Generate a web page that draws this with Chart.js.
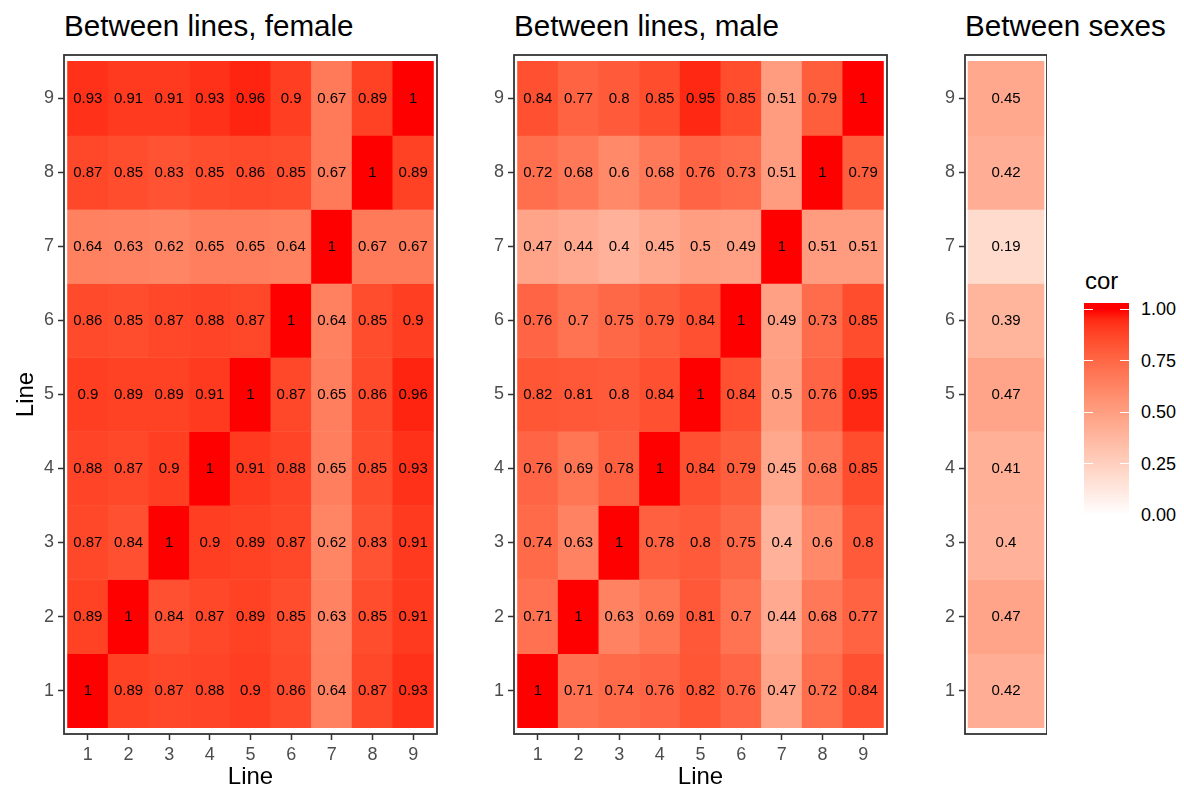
<!DOCTYPE html>
<html>
<head>
<meta charset="utf-8">
<script src="https://cdn.jsdelivr.net/npm/chart.js@4.4.1/dist/chart.umd.min.js"></script>
<style>
  html, body { margin: 0; padding: 0; background: #ffffff; }
  body { width: 1184px; height: 792px; position: relative; overflow: hidden;
         font-family: 'Liberation Sans', Arial, Helvetica, sans-serif; }
  canvas { position: absolute; top: 0; }
  .title { position: absolute; top: 11px; font-size: 29.6px; line-height: 29.6px; color: #000; white-space: nowrap; }
  .legtitle { position: absolute; font-size: 24px; line-height: 24px; color: #000; }
  .leglab { position: absolute; font-size: 18px; line-height: 18px; color: #000; }
  .dash { position: absolute; height: 1px; background: #ffffff; }
</style>
</head>
<body>
<div class="title" style="left:64px">Between lines, female</div>
<div class="title" style="left:514px">Between lines, male</div>
<div class="title" style="left:965px">Between sexes</div>
<canvas id="c1" width="450" height="792" style="left:0px"></canvas>
<canvas id="c2" width="450" height="792" style="left:450px"></canvas>
<canvas id="c3" width="146" height="792" style="left:901px"></canvas>
<div id="legend"></div>
<script>
// ---------------- DATA ----------------
const lines = [1, 2, 3, 4, 5, 6, 7, 8, 9];
// femaleCor[r] = row "Line" r+1 (y), values for columns Line 1..9 (x)
const femaleCor = [
  [1, 0.89, 0.87, 0.88, 0.9, 0.86, 0.64, 0.87, 0.93],
  [0.89, 1, 0.84, 0.87, 0.89, 0.85, 0.63, 0.85, 0.91],
  [0.87, 0.84, 1, 0.9, 0.89, 0.87, 0.62, 0.83, 0.91],
  [0.88, 0.87, 0.9, 1, 0.91, 0.88, 0.65, 0.85, 0.93],
  [0.9, 0.89, 0.89, 0.91, 1, 0.87, 0.65, 0.86, 0.96],
  [0.86, 0.85, 0.87, 0.88, 0.87, 1, 0.64, 0.85, 0.9],
  [0.64, 0.63, 0.62, 0.65, 0.65, 0.64, 1, 0.67, 0.67],
  [0.87, 0.85, 0.83, 0.85, 0.86, 0.85, 0.67, 1, 0.89],
  [0.93, 0.91, 0.91, 0.93, 0.96, 0.9, 0.67, 0.89, 1]
];
const maleCor = [
  [1, 0.71, 0.74, 0.76, 0.82, 0.76, 0.47, 0.72, 0.84],
  [0.71, 1, 0.63, 0.69, 0.81, 0.7, 0.44, 0.68, 0.77],
  [0.74, 0.63, 1, 0.78, 0.8, 0.75, 0.4, 0.6, 0.8],
  [0.76, 0.69, 0.78, 1, 0.84, 0.79, 0.45, 0.68, 0.85],
  [0.82, 0.81, 0.8, 0.84, 1, 0.84, 0.5, 0.76, 0.95],
  [0.76, 0.7, 0.75, 0.79, 0.84, 1, 0.49, 0.73, 0.85],
  [0.47, 0.44, 0.4, 0.45, 0.5, 0.49, 1, 0.51, 0.51],
  [0.72, 0.68, 0.6, 0.68, 0.76, 0.73, 0.51, 1, 0.79],
  [0.84, 0.77, 0.8, 0.85, 0.95, 0.85, 0.51, 0.79, 1]
];
const sexesCor = [0.42, 0.47, 0.4, 0.41, 0.47, 0.39, 0.19, 0.42, 0.45];
const legendTicks = [0, 0.25, 0.5, 0.75, 1];
const legendLabels = ['0.00', '0.25', '0.50', '0.75', '1.00'];

// ---------------- COLOUR SCALE (white -> red in Lab) ----------------
const LOW = [100, 0, 0];
const HIGH = [53.2408, 80.0925, 67.2032];
function lab2rgb(L, a, b) {
  const fy = (L + 16) / 116, fx = fy + a / 500, fz = fy - b / 200;
  const e = 216 / 24389, k = 24389 / 27;
  const f3 = t => { const t3 = t * t * t; return t3 > e ? t3 : (116 * t - 16) / k; };
  const X = 0.95047 * f3(fx), Y = L > k * e ? fy * fy * fy : L / k, Z = 1.08883 * f3(fz);
  const r = 3.2404542 * X - 1.5371385 * Y - 0.4985314 * Z;
  const g = -0.9692660 * X + 1.8760108 * Y + 0.0415560 * Z;
  const bl = 0.0556434 * X - 0.2040259 * Y + 1.0572252 * Z;
  const gam = c => { c = c <= 0.0031308 ? 12.92 * c : 1.055 * Math.pow(c, 1 / 2.4) - 0.055;
                     return Math.round(Math.max(0, Math.min(1, c)) * 255); };
  return 'rgb(' + gam(r) + ',' + gam(g) + ',' + gam(bl) + ')';
}
function fillColor(v) {
  const t = Math.max(0, Math.min(1, v));
  return lab2rgb(LOW[0] + (HIGH[0] - LOW[0]) * t, LOW[1] + (HIGH[1] - LOW[1]) * t, LOW[2] + (HIGH[2] - LOW[2]) * t);
}

// ---------------- CHART HELPERS ----------------
Chart.defaults.font.family = "'Liberation Sans', Arial, Helvetica, sans-serif";
Chart.defaults.animation = false;

function matrixPoints(mat, cols) {
  const pts = [];
  mat.forEach((row, r) => {
    row.forEach((v, c) => {
      pts.push({ y: lines[r], x: [cols[c] - 0.5, cols[c] + 0.5], v: v });
    });
  });
  return pts;
}

const framePlugin = {
  id: 'frame',
  afterDraw(chart) {
    const a = chart.chartArea, ctx = chart.ctx;
    ctx.save();
    ctx.strokeStyle = '#333333';
    ctx.lineWidth = 1.8;
    ctx.strokeRect(a.left, a.top, a.right - a.left, a.bottom - a.top);
    ctx.restore();
  }
};
const cellLabelPlugin = {
  id: 'cellLabels',
  afterDatasetsDraw(chart) {
    const ctx = chart.ctx;
    const meta = chart.getDatasetMeta(0);
    const data = chart.data.datasets[0].data;
    ctx.save();
    ctx.fillStyle = '#000000';
    ctx.font = "15px 'Liberation Sans', Arial, Helvetica, sans-serif";
    ctx.textAlign = 'center';
    ctx.textBaseline = 'middle';
    meta.data.forEach((el, i) => {
      const p = el.getProps(['x', 'y', 'base'], true);
      ctx.fillText(String(data[i].v), (p.x + p.base) / 2, p.y + 0.5);
    });
    ctx.restore();
  }
};

const intTicks = scale => { scale.ticks = lines.map(v => ({ value: v })); };
const EXP = 0.087;

function makeChart(id, points, opts) {
  const xMin = opts.xMin, xMax = opts.xMax;
  return new Chart(document.getElementById(id), {
    type: 'bar',
    data: {
      datasets: [{
        data: points,
        backgroundColor: points.map(p => fillColor(p.v)),
        borderWidth: 0,
        categoryPercentage: 1,
        barPercentage: 1
      }]
    },
    options: {
      indexAxis: 'y',
      responsive: false,
      layout: { padding: opts.padding },
      plugins: { legend: { display: false }, tooltip: { enabled: false }, title: { display: false } },
      scales: {
        y: {
          type: 'linear',
          min: 0.5 - EXP, max: 9.5 + EXP,
          offset: false,
          afterBuildTicks: intTicks,
          afterFit: s => { s.width = 64; },
          ticks: { color: '#4D4D4D', font: { size: 18 }, padding: 4, autoSkip: false },
          grid: { display: true, drawOnChartArea: false, drawTicks: true, tickLength: 6,
                  tickColor: '#333333', tickWidth: 1.5, offset: false },
          border: { display: false },
          title: opts.yTitle ? { display: true, text: 'Line', color: '#000', font: { size: 24 },
                                 padding: { top: 12, bottom: 0 } } : { display: false }
        },
        x: {
          type: 'linear',
          display: opts.xDisplay,
          min: xMin, max: xMax,
          offset: false,
          afterBuildTicks: intTicks,
          afterFit: s => { s.height = 58; },
          ticks: { color: '#4D4D4D', font: { size: 18 }, padding: 4, autoSkip: false, maxRotation: 0 },
          grid: { display: true, drawOnChartArea: false, drawTicks: true, tickLength: 6,
                  tickColor: '#333333', tickWidth: 1.5, offset: false },
          border: { display: false },
          title: { display: true, text: 'Line', color: '#000', font: { size: 24 }, padding: { top: 0, bottom: 0 } }
        }
      }
    },
    plugins: [cellLabelPlugin, framePlugin]
  });
}

makeChart('c1', matrixPoints(femaleCor, lines),
  { xMin: 0.5 - EXP, xMax: 9.5 + EXP, xDisplay: true, yTitle: true,
    padding: { top: 55, right: 13, bottom: 0, left: 0 } });
makeChart('c2', matrixPoints(maleCor, lines),
  { xMin: 0.5 - EXP, xMax: 9.5 + EXP, xDisplay: true, yTitle: false,
    padding: { top: 55, right: 13, bottom: 0, left: 0 } });
makeChart('c3', matrixPoints(sexesCor.map(v => [v]), [1]),
  { xMin: 0.5 - 0.04, xMax: 1.5 + 0.04, xDisplay: false, yTitle: false,
    padding: { top: 55, right: 0, bottom: 0, left: 0 } });

// ---------------- LEGEND (colour bar) ----------------
(function () {
  const leg = document.getElementById('legend');
  const barLeft = 1084, barTop = 303, barW = 45, barH = 218;
  const y0 = 514.9, y1 = 309.3; // pixel of value 0 and 1
  const valToY = v => y0 + (y1 - y0) * v;
  const stops = [];
  for (let i = 0; i <= 20; i++) {
    const v = 1 - i / 20;
    stops.push(fillColor(v) + ' ' + (valToY(v) - barTop).toFixed(1) + 'px');
  }
  const bar = document.createElement('div');
  bar.style.cssText = 'position:absolute;left:' + barLeft + 'px;top:' + barTop + 'px;width:' + barW +
    'px;height:' + barH + 'px;background:linear-gradient(to bottom,' + stops.join(',') + ');';
  leg.appendChild(bar);
  const t = document.createElement('div');
  t.className = 'legtitle';
  t.style.left = '1085px'; t.style.top = '269px';
  t.textContent = 'cor';
  leg.appendChild(t);
  legendTicks.forEach((v, i) => {
    const y = valToY(v);
    const l = document.createElement('div');
    l.className = 'leglab';
    l.style.left = '1141px'; l.style.top = (y - 9) + 'px';
    l.textContent = legendLabels[i];
    leg.appendChild(l);
    [barLeft, barLeft + barW - 9].forEach(x => {
      const d = document.createElement('div');
      d.className = 'dash';
      d.style.left = x + 'px'; d.style.top = (y - 0.5) + 'px'; d.style.width = '9px';
      leg.appendChild(d);
    });
  });
})();
</script>
</body>
</html>
